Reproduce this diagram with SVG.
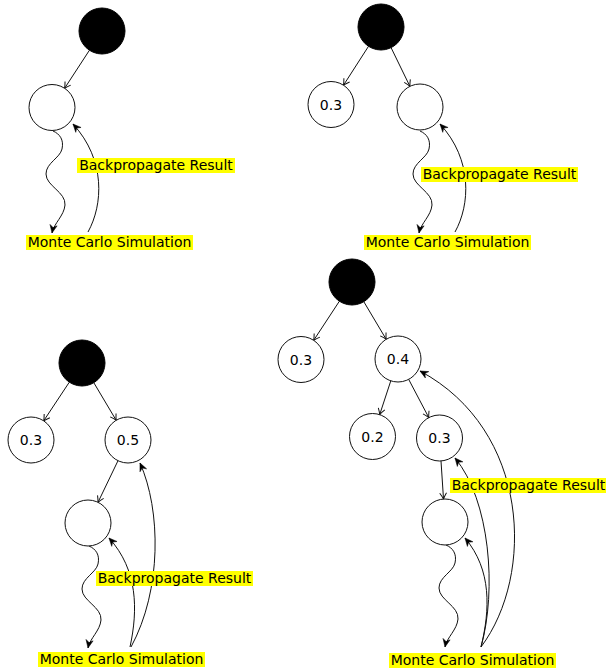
<svg xmlns="http://www.w3.org/2000/svg" width="606" height="671" viewBox="0 0 606 671">
<style>
.n{fill:#fff;stroke:#111;stroke-width:1}
.b{fill:#000;stroke:#000;stroke-width:1}
.v{font-family:"DejaVu Sans",sans-serif;font-size:14px;fill:#000;text-anchor:middle;dominant-baseline:central}
.e{fill:none;stroke:#111;stroke-width:1;marker-end:url(#open)}
.w{fill:none;stroke:#111;stroke-width:1;marker-end:url(#stealth)}
.lb{fill:#ffff00}
.lt{font-family:"DejaVu Sans",sans-serif;font-size:14px;fill:#000;text-anchor:middle}
</style>
<defs>
<marker id="open" markerUnits="userSpaceOnUse" viewBox="-8 -5 10 10" refX="0" refY="0" markerWidth="10" markerHeight="10" orient="auto">
<path d="M-6,-3.4 Q-2.2,-0.9 0,0 Q-2.2,0.9 -6,3.4" fill="none" stroke="#111" stroke-width="1"/>
</marker>
<marker id="stealth" markerUnits="userSpaceOnUse" viewBox="-10 -5 11 10" refX="0" refY="0" markerWidth="11" markerHeight="10" orient="auto">
<path d="M0,0 L-8,-3.6 L-5.5,0 L-8,3.6 Z" fill="#000" stroke="#000" stroke-width="0.5"/>
</marker>
</defs>
<rect width="606" height="671" fill="#fff"/>
<g id="connectors">
<!-- panel 1 -->
<path class="e" d="M89.4,50.3 L64.6,88.3"/>
<path class="w" d="M53,131 C60,134 64,140 62,149 C60,158 46,163 46,174 C46,186 66,192 65,205 C64,216 54,223 52,233"/>
<path class="w" d="M88,232 C103,205 106,160 73,124"/>
<!-- panel 2 -->
<path class="e" d="M368.5,46.3 L343.5,85.2"/>
<path class="e" d="M391.1,47.7 L409.9,86.3"/>
<path class="w" d="M420,131 C427,134 431,140 429,149 C427,158 413,163 413,174 C413,186 433,192 432,205 C431,216 421,223 419,233"/>
<path class="w" d="M455,232 C470,205 473,160 440,124"/>
<!-- panel 3 -->
<path class="e" d="M69.3,382.2 L43.7,420.8"/>
<path class="e" d="M93.8,382.7 L116.2,420.3"/>
<path class="e" d="M118,460.7 L98,502.3"/>
<path class="w" d="M89,546 C96,549 100,555 98,564 C96,573 82,578 82,589 C82,601 102,607 101,620 C100,631 90,638 88,648"/>
<path class="w" d="M130,647 C138,610 138,570 109,538"/>
<path class="w" d="M131,647 C162,590 161,510 140,463"/>
<!-- panel 4 -->
<path class="e" d="M339.4,301.2 L313.7,340.3"/>
<path class="e" d="M363.8,301.7 L386.2,339.3"/>
<path class="e" d="M390.8,380.8 L379.7,414.6"/>
<path class="e" d="M408.7,379.4 L428.8,417.6"/>
<path class="e" d="M441,461 L443.5,499"/>
<path class="w" d="M446,545 C453,548 457,554 455,563 C453,572 439,577 439,588 C439,600 459,606 458,619 C457,630 447,637 445,647"/>
<path class="w" d="M481,647 C490,610 492,570 465,538"/>
<path class="w" d="M481,647 C497,590 490,500 455,458"/>
<path class="w" d="M481,647 C535,575 530,430 420,371"/>
</g>
<g id="p1-root"><circle class="b" cx="102" cy="31" r="23"/></g>
<g id="p1-leaf"><circle class="n" cx="52" cy="107.5" r="23"/></g>
<g id="p2-root"><circle class="b" cx="381" cy="27" r="23"/></g>
<g id="p2-a"><circle class="n" cx="331" cy="104.5" r="23"/><text class="v" x="331" y="104.5">0.3</text></g>
<g id="p2-leaf"><circle class="n" cx="420" cy="107" r="23"/></g>
<g id="p3-root"><circle class="b" cx="82" cy="363" r="23"/></g>
<g id="p3-a"><circle class="n" cx="31" cy="440" r="23"/><text class="v" x="31" y="440">0.3</text></g>
<g id="p3-b"><circle class="n" cx="128" cy="440" r="23"/><text class="v" x="128" y="440">0.5</text></g>
<g id="p3-leaf"><circle class="n" cx="88" cy="523" r="23"/></g>
<g id="p4-root"><circle class="b" cx="352" cy="282" r="23"/></g>
<g id="p4-a"><circle class="n" cx="301" cy="359.5" r="23"/><text class="v" x="301" y="359.5">0.3</text></g>
<g id="p4-b"><circle class="n" cx="398" cy="359" r="23"/><text class="v" x="398" y="359">0.4</text></g>
<g id="p4-c"><circle class="n" cx="372.5" cy="436.5" r="23"/><text class="v" x="372.5" y="436.5">0.2</text></g>
<g id="p4-d"><circle class="n" cx="439.5" cy="438" r="23"/><text class="v" x="439.5" y="438">0.3</text></g>
<g id="p4-leaf"><circle class="n" cx="445" cy="522" r="23"/></g>
<g id="labels">
<g id="p1-bp"><rect class="lb" x="77" y="158" width="158" height="15"/><text class="lt" x="156" y="170">Backpropagate Result</text></g>
<g id="p1-mc"><rect class="lb" x="26" y="235" width="167" height="15"/><text class="lt" x="109.5" y="247">Monte Carlo Simulation</text></g>
<g id="p2-bp"><rect class="lb" x="421" y="167" width="157" height="15"/><text class="lt" x="499.5" y="179">Backpropagate Result</text></g>
<g id="p2-mc"><rect class="lb" x="364" y="235" width="167" height="15"/><text class="lt" x="447.5" y="247">Monte Carlo Simulation</text></g>
<g id="p3-bp"><rect class="lb" x="96" y="571" width="157" height="15"/><text class="lt" x="174.5" y="583">Backpropagate Result</text></g>
<g id="p3-mc"><rect class="lb" x="38" y="652" width="167" height="15"/><text class="lt" x="121.5" y="664">Monte Carlo Simulation</text></g>
<g id="p4-bp"><rect class="lb" x="450" y="478" width="157" height="15"/><text class="lt" x="528.5" y="490">Backpropagate Result</text></g>
<g id="p4-mc"><rect class="lb" x="389" y="653" width="167" height="15"/><text class="lt" x="472.5" y="665">Monte Carlo Simulation</text></g>
</g>
</svg>
